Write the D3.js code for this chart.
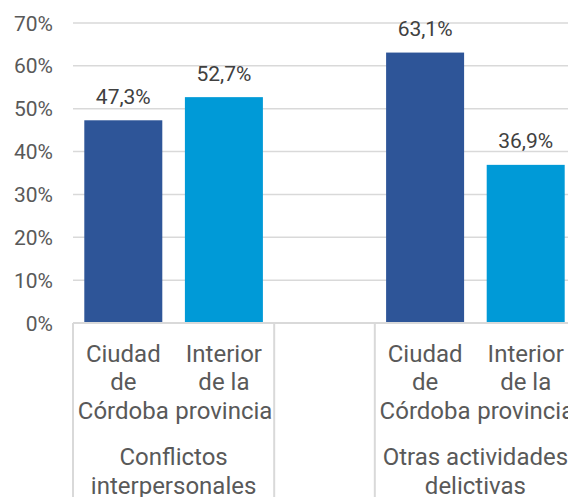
<!DOCTYPE html>
<html>
<head>
<meta charset="utf-8">
<script src="https://cdn.jsdelivr.net/npm/d3@7"></script>
<style>
  html, body { margin: 0; padding: 0; background: #fff; }
  svg { display: block; font-family: Roboto, "Noto Sans", sans-serif; }
</style>
</head>
<body>
<svg id="chart" width="568" height="497"></svg>
<script>
// ---- data ----
const slots = ["g1a", "g1b", "gap", "g2a", "g2b"];
const subLabels = [
  ["Ciudad", "de", "Córdoba"],
  ["Interior", "de la", "provincia"],
  [],
  ["Ciudad", "de", "Córdoba"],
  ["Interior", "de la", "provincia"]
];
const values = [0.473, 0.527, null, 0.631, 0.369];
const valueLabels = ["47,3%", "52,7%", "", "63,1%", "36,9%"];
const barColors = ["#2E5598", "#009AD7", null, "#2E5598", "#009AD7"];
const groups = [
  { lines: ["Conflictos", "interpersonales"], from: 0, to: 2 },
  { lines: [], from: 2, to: 3 },
  { lines: ["Otras actividades", "delictivas"], from: 3, to: 5 }
];
const yTicks = [0, 0.1, 0.2, 0.3, 0.4, 0.5, 0.6, 0.7];
const yTickLabels = ["0%", "10%", "20%", "30%", "40%", "50%", "60%", "70%"];

// ---- layout ----
const svg = d3.select("#chart");
const plotLeft = 73, plotRight = 576, plotTop = 23, plotBottom = 323;
const textColor = "#595959";
const gridColor = "#D9D9D9";

const y = d3.scaleLinear().domain([0, 0.7]).range([plotBottom, plotTop]);
const x = d3.scaleBand().domain(slots).range([plotLeft, plotRight])
  .paddingInner(0.2247).paddingOuter(0.11235);
const step = x.step();

// gridlines
svg.append("g").selectAll("line").data(yTicks.filter(d => d > 0)).join("line")
  .attr("x1", plotLeft).attr("x2", 568)
  .attr("y1", d => y(d)).attr("y2", d => y(d))
  .attr("stroke", gridColor).attr("stroke-width", 1.5);

// y tick labels
svg.append("g").selectAll("text").data(yTicks).join("text")
  .attr("x", 53).attr("y", d => y(d))
  .attr("dy", "0.36em")
  .attr("text-anchor", "end")
  .attr("fill", textColor)
  .style("font-size", "21px")
  .text((d, i) => yTickLabels[i]);

// bars
const barData = slots.map((s, i) => ({ s, v: values[i], c: barColors[i], l: valueLabels[i], sub: subLabels[i] }));
svg.append("g").selectAll("rect").data(barData.filter(d => d.v != null)).join("rect")
  .attr("x", d => x(d.s)).attr("width", x.bandwidth())
  .attr("y", d => y(d.v)).attr("height", d => y(0) - y(d.v))
  .attr("fill", d => d.c);

// value labels
svg.append("g").selectAll("text").data(barData.filter(d => d.v != null)).join("text")
  .attr("x", d => x(d.s) + x.bandwidth() / 2)
  .attr("y", d => y(d.v) - 16.5)
  .attr("text-anchor", "middle")
  .attr("fill", "#404040")
  .style("font-size", "21px")
  .text(d => d.l);

// x axis line
svg.append("line")
  .attr("x1", plotLeft).attr("x2", 568)
  .attr("y1", y(0)).attr("y2", y(0))
  .attr("stroke", gridColor).attr("stroke-width", 2);

// group separators
const sepIdx = [0, 2, 3, 5];
svg.append("g").selectAll("line").data(sepIdx).join("line")
  .attr("x1", d => plotLeft + d * step).attr("x2", d => plotLeft + d * step)
  .attr("y1", y(0)).attr("y2", 497)
  .attr("stroke", gridColor).attr("stroke-width", 2);

// sub category labels
const subG = svg.append("g");
barData.forEach(d => {
  d.sub.forEach((line, j) => {
    subG.append("text")
      .attr("x", x(d.s) + x.bandwidth() / 2)
      .attr("y", 361.5 + j * 28.8)
      .attr("text-anchor", "middle")
      .attr("fill", textColor)
      .style("font-size", "24px")
      .text(line);
  });
});

// group labels
const grpG = svg.append("g");
groups.forEach(g => {
  const cx = plotLeft + (g.from + g.to) / 2 * step;
  g.lines.forEach((line, j) => {
    grpG.append("text")
      .attr("x", cx)
      .attr("y", 465 + j * 28.5)
      .attr("text-anchor", "middle")
      .attr("fill", textColor)
      .style("font-size", "24px")
      .text(line);
  });
});
</script>
</body>
</html>
